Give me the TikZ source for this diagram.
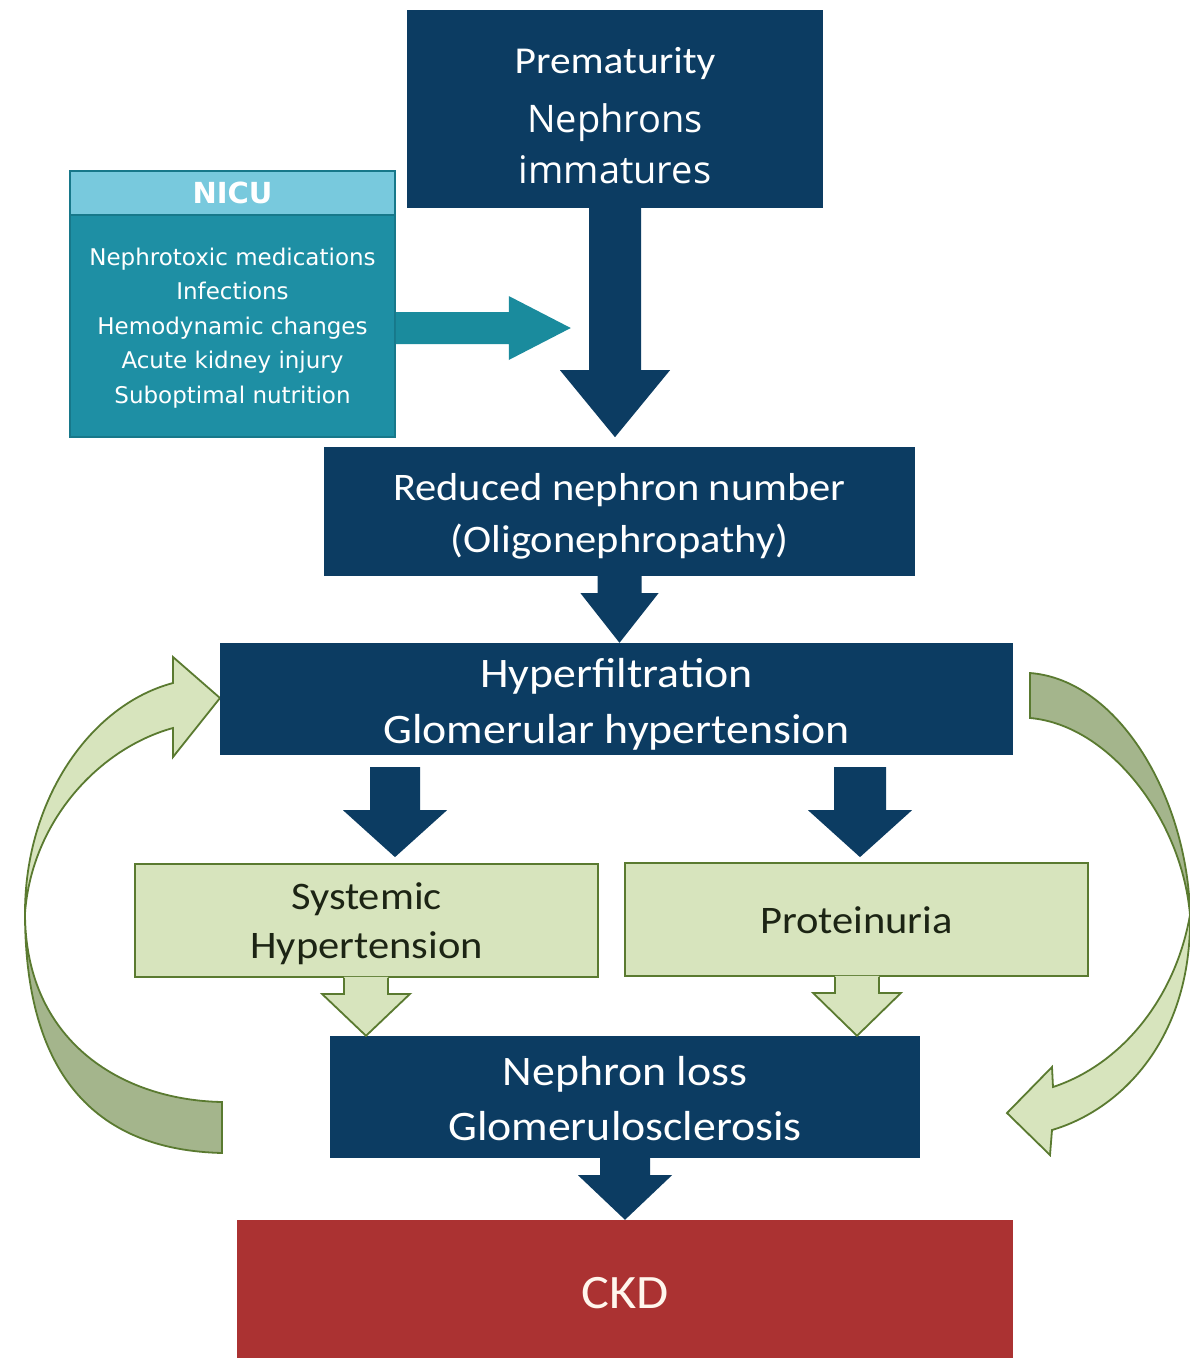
\documentclass[tikz,border=0pt]{standalone}
\usepackage{fontspec}
\setmainfont[FakeStretch=1.09]{Carlito}
\newfontfamily\opensans{Open Sans}
\newfontfamily\dejavu{DejaVu Sans}
\usetikzlibrary{calc}
\definecolor{navy}{HTML}{0C3C62}
\definecolor{lgreen}{HTML}{D7E4BD}
\definecolor{dgreen}{HTML}{A4B58C}
\definecolor{gborder}{HTML}{5A7A30}
\definecolor{gtext}{HTML}{1C2414}
\definecolor{tealbody}{HTML}{1E8FA4}
\definecolor{tealhead}{HTML}{78C9DD}
\definecolor{tealline}{HTML}{17788A}
\definecolor{tealarrow}{HTML}{1A8B9D}
\definecolor{ckdred}{HTML}{AB3232}
\tikzset{
  navybox/.style={rectangle, fill=navy, inner sep=0pt},
  greenbox/.style={rectangle, fill=lgreen, draw=gborder, line width=1.8pt, inner sep=0pt},
  navyarrow/.style={fill=navy},
  greenarrow/.style={fill=lgreen},
  gline/.style={draw=gborder, line width=1.8pt, line join=miter},
  wtext/.style={text=white, inner sep=0pt, align=center},
  gtxt/.style={text=gtext, inner sep=0pt, align=center},
}
\begin{document}
\begin{tikzpicture}[x=1pt,y=-1pt]
\useasboundingbox (0,0) rectangle (1190,1358);
\fill[white] (0,0) rectangle (1190,1358);

% ---- curved feedback arrows ----
\filldraw[fill=dgreen, draw=gborder, line width=1.8pt, line join=miter]
  (222,1102) .. controls (120,1100) and (25,1040) .. (25,913)
  .. controls (25,1080) and (100,1150) .. (222,1153) -- cycle;
\filldraw[fill=lgreen, draw=gborder, line width=1.8pt, line join=miter]
  (25,913) .. controls (25,800) and (90,705) .. (173,683) -- (173,657) -- (220,698)
  -- (173,757) -- (173,728) .. controls (100,748) and (32,820) .. (25,913) -- cycle;

\filldraw[fill=dgreen, draw=gborder, line width=1.8pt, line join=miter]
  (1030,673) .. controls (1120,680) and (1188,800) .. (1190,915)
  .. controls (1182,820) and (1110,725) .. (1030,718) -- cycle;
\filldraw[fill=lgreen, draw=gborder, line width=1.8pt, line join=miter]
  (1190,915) .. controls (1192,1040) and (1120,1110) .. (1052,1130) -- (1050,1155)
  -- (1007,1113) -- (1052,1067) -- (1053,1087) .. controls (1120,1065) and (1175,1000) .. (1190,915) -- cycle;

% ---- boxes ----
\node[navybox, minimum width=416pt, minimum height=198pt] (prem) at (615,109) {};
\node[wtext, font=\fontsize{38}{40}\selectfont] (premT) at (615,63) {Prematurity};
\node[wtext, font=\opensans\fontsize{38}{51}\selectfont] (nephT) at (615,144) {Nephrons\\immatures};

\node[rectangle, fill=tealbody, draw=tealline, line width=1.5pt, minimum width=325pt, minimum height=266pt] (nicu) at (232.5,304) {};
\node[rectangle, fill=tealhead, draw=tealline, line width=1.5pt, minimum width=325pt, minimum height=44pt, text=white, font=\dejavu\bfseries\fontsize{29}{30}\selectfont] (nicuH) at (232.5,193) {NICU};
\node[wtext, font=\dejavu\fontsize{23}{34.5}\selectfont] (nicuT) at (232.5,328) {Nephrotoxic medications\\Infections\\Hemodynamic changes\\Acute kidney injury\\Suboptimal nutrition};

\node[navybox, minimum width=591pt, minimum height=129pt] (red) at (619.5,511.5) {};
\node[wtext, font=\fontsize{39}{52}\selectfont] (redT) at (619.5,516) {Reduced nephron number\\(Oligonephropathy)};

\node[navybox, minimum width=793pt, minimum height=112pt] (hyp) at (616.5,699) {};
\node[wtext, font=\fontsize{42}{56}\selectfont] (hypT) at (616.5,704) {Hyperfiltration\\Glomerular hypertension};

\node[greenbox, minimum width=463pt, minimum height=113pt] (sys) at (366.5,920.5) {};
\node[gtxt, font=\fontsize{39}{49}\selectfont] (sysT) at (366.5,924) {Systemic\\Hypertension};

\node[greenbox, minimum width=463pt, minimum height=113pt] (prot) at (856.5,919.5) {};
\node[gtxt, font=\fontsize{39}{49}\selectfont] (protT) at (856.5,920.5) {Proteinuria};

\node[navybox, minimum width=590pt, minimum height=122pt] (loss) at (625,1097) {};
\node[wtext, font=\fontsize{42}{55}\selectfont] (lossT) at (625,1099) {Nephron loss\\Glomerulosclerosis};

\node[rectangle, fill=ckdred, inner sep=0pt, minimum width=776pt, minimum height=138pt] (ckd) at (625,1289) {};
\node[text=white!93!orange, inner sep=0pt, font=\fontsize{48}{50}\selectfont] (ckdT) at (625,1293) {CKD};

% ---- block arrows ----
% Prematurity -> Reduced
\fill[navyarrow] let \p1=(prem.south) in
  (\x1-26pt,\y1) -- (\x1+26pt,\y1) -- (\x1+26pt,\y1-162pt) -- (\x1+55pt,\y1-162pt)
  -- (\x1,\y1-229pt) -- (\x1-55pt,\y1-162pt) -- (\x1-26pt,\y1-162pt) -- cycle;
% NICU -> main arrow
\fill[tealarrow] let \p1=(nicu.east) in
  (\x1,\y1-8pt) -- (\x1+113pt,\y1-8pt) -- (\x1+113pt,\y1+8pt) -- (\x1+175pt,\y1-24pt)
  -- (\x1+113pt,\y1-56pt) -- (\x1+113pt,\y1-40pt) -- (\x1,\y1-40pt) -- cycle;
% Reduced -> Hyper
\fill[navyarrow] let \p1=(red.south), \p2=(hyp.north) in
  (\x1-22pt,\y1) -- (\x1+22pt,\y1) -- (\x1+22pt,\y1-17pt) -- (\x1+39pt,\y1-17pt)
  -- (\x1,\y2) -- (\x1-39pt,\y1-17pt) -- (\x1-22pt,\y1-17pt) -- cycle;
% Hyper -> Systemic / Proteinuria
\fill[navyarrow] let \p1=(hyp.south), \p2=(sys.north) in
  (395pt-25pt,\y1-12pt) -- (395pt+25pt,\y1-12pt) -- (395pt+25pt,\y1-55pt) -- (395pt+52pt,\y1-55pt)
  -- (395pt,\y2+6pt) -- (395pt-52pt,\y1-55pt) -- (395pt-25pt,\y1-55pt) -- cycle;
\fill[navyarrow] let \p1=(hyp.south), \p2=(prot.north) in
  (860pt-26pt,\y1-12pt) -- (860pt+26pt,\y1-12pt) -- (860pt+26pt,\y1-55pt) -- (860pt+52pt,\y1-55pt)
  -- (860pt,\y2+5pt) -- (860pt-52pt,\y1-55pt) -- (860pt-26pt,\y1-55pt) -- cycle;
% Systemic / Proteinuria -> Nephron loss (hollow)
\foreach \src/\xc in {sys/366, prot/857}{
  \fill[greenarrow] let \p1=(\src.south), \p2=(loss.north) in
    (\xc pt-22pt,\y1+1pt) -- (\xc pt+22pt,\y1+1pt) -- (\xc pt+22pt,\y1-16pt) -- (\xc pt+44pt,\y1-16pt)
    -- (\xc pt,\y2) -- (\xc pt-44pt,\y1-16pt) -- (\xc pt-22pt,\y1-16pt) -- cycle;
  \draw[gline] let \p1=(\src.south), \p2=(loss.north) in
    (\xc pt-22pt,\y1) -- (\xc pt-22pt,\y1-16pt) -- (\xc pt-44pt,\y1-16pt)
    -- (\xc pt,\y2) -- (\xc pt+44pt,\y1-16pt) -- (\xc pt+22pt,\y1-16pt) -- (\xc pt+22pt,\y1);
}
% Nephron loss -> CKD
\fill[navyarrow] let \p1=(loss.south), \p2=(ckd.north) in
  (\x1-25pt,\y1) -- (\x1+25pt,\y1) -- (\x1+25pt,\y1-17pt) -- (\x1+47pt,\y1-17pt)
  -- (\x1,\y2) -- (\x1-47pt,\y1-17pt) -- (\x1-25pt,\y1-17pt) -- cycle;
\end{tikzpicture}
\end{document}
